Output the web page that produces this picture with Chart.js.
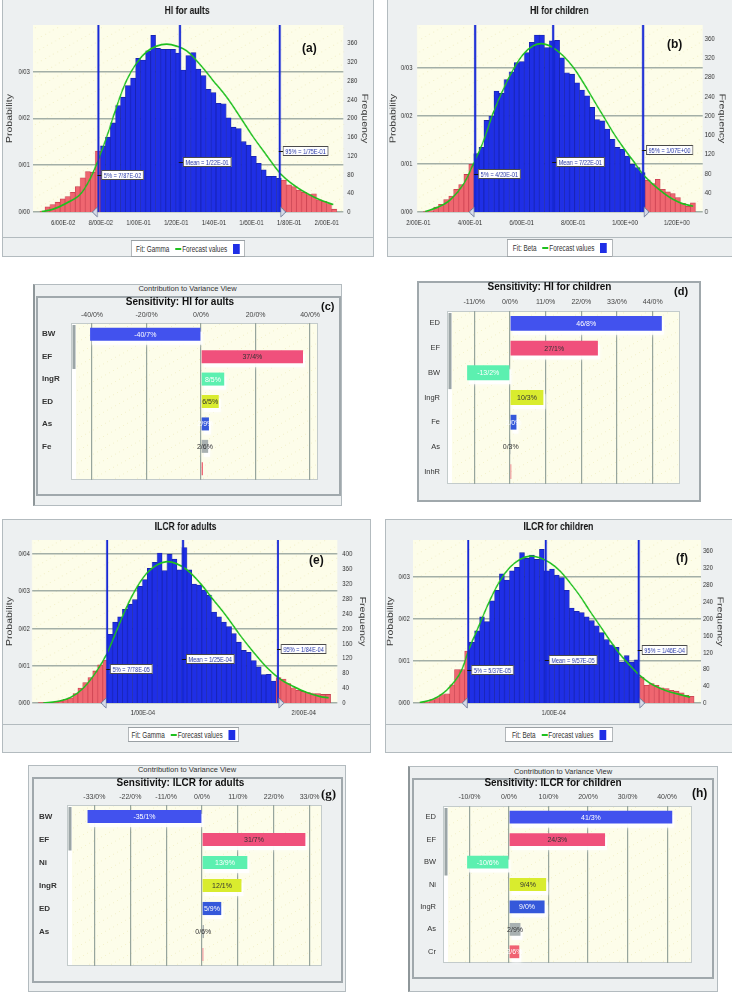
<!DOCTYPE html>
<html><head><meta charset="utf-8">
<script src="https://cdn.jsdelivr.net/npm/chart.js@4.4.1/dist/chart.umd.min.js"></script>
<style>
body{margin:0;background:#fff;width:732px;height:992px;position:relative;overflow:hidden;font-family:'Liberation Sans',Arial,sans-serif;}
.panel{position:absolute;background:#EDF0F1;border:1px solid #B3BBBF;box-sizing:border-box;}
.inner{position:absolute;background:#EDF0F1;border:2px solid #A0A8AC;box-sizing:border-box;}
canvas{position:absolute;}
.sep{position:absolute;height:0;border-top:1px solid #B3BBBF;}
.legend{position:absolute;background:#fff;border:1px solid #9AA0A4;box-sizing:border-box;font-size:8.5px;color:#333;display:flex;align-items:center;justify-content:center;white-space:nowrap;transform-origin:0 0;}
.legend .ln{display:inline-block;width:8px;height:2px;background:#1EC01E;margin:0 1px 0 8px}
.legend .sq{display:inline-block;width:9px;height:10px;background:#1F2FE6;margin-left:8px}
.hdr{position:absolute;font-size:7.5px;color:#333;text-align:center;line-height:10px}
.tag{position:absolute;font-weight:bold;font-size:12px;color:#111;line-height:12px}
</style></head><body>
<script>
// ================= DATA =================
// (a) HI for adults
const aTitle = 'HI for aults';
const aBinStart = 0.0477, aBinWidth = 0.00267;
const aFreq = [2,11,16,21,28,33,42,54,73,86,85,130,
  141,160,190,227,245,270,286,328,324,344,377,349,347,347,347,339,303,334,340,305,291,262,255,232,231,201,181,178,150,143,119,104,90,76,76,72,
  68,58,54,47,42,37,39,26,23,18,6];
const aFitX = [0.0486,0.0547,0.0618,0.0689,0.0742,0.0787,0.0831,0.0884,0.0937,0.099,0.1043,0.1096,0.1149,0.1202,0.1255,0.1326,0.1397,0.1468,0.1539,0.1609,0.168,0.1751,0.1822,0.1893,0.1963,0.2034];
const aFitY = [1,6,19,37,70,112,160,225,281,318,342,354,358,354,344,315,280,245,203,160,121,83,58,40,26,16];
const aXTicks = [0.06,0.08,0.10,0.12,0.14,0.16,0.18,0.20];
const aStats = {p5:0.0787, mean:0.122, p95:0.175};
const aProbTicks = [0,0.01,0.02,0.03];
const aFreqTicks = [0,40,80,120,160,200,240,280,320,360];

// (b) HI for children
const bTitle = 'HI for children';
const bBinStart = 0.22, bBinWidth = 0.0195;
const bFreq = [1,3,10,16,26,33,47,57,78,99,
  121,134,190,199,251,246,275,291,310,312,331,352,367,367,341,355,356,320,289,286,268,253,241,217,192,189,172,151,134,130,116,99,92,82,
  66,59,68,47,42,38,30,18,12,19];
const bFitX = [0.226,0.271,0.323,0.374,0.413,0.452,0.49,0.529,0.568,0.606,0.645,0.684,0.722,0.761,0.8,0.838,0.877,0.916,0.954,0.993,1.032,1.07,1.109,1.148,1.187,1.225,1.264];
const bFitY = [1,9,25,57,100,147,206,255,296,327,345,349,341,324,300,269,234,199,165,134,106,78,57,40,26,17,12];
const bXTicks = [0.2,0.4,0.6,0.8,1.0,1.2];
const bStats = {p5:0.42, mean:0.722, p95:1.07};
const bProbTicks = [0,0.01,0.02,0.03];
const bFreqTicks = [0,40,80,120,160,200,240,280,320,360];

// (e) ILCR for adults
const eTitle = 'ILCR for adults';
const eBinStart = 0.35e-4, eBinWidth = 0.0308e-4;
const eFreq = [1,1,1,2,5,10,14,25,40,55,68,86,102,115,
  184,217,231,251,265,277,313,331,361,377,402,355,399,386,357,417,357,319,316,303,289,244,231,217,205,186,163,141,136,114,97,76,77,59,
  68,64,52,41,34,31,28,25,25,23,23];
const eFitX = [0.381e-4,0.465e-4,0.547e-4,0.63e-4,0.714e-4,0.776e-4,0.838e-4,0.9e-4,0.963e-4,1.025e-4,1.087e-4,1.149e-4,1.212e-4,1.274e-4,1.357e-4,1.44e-4,1.523e-4,1.606e-4,1.689e-4,1.772e-4,1.855e-4,1.938e-4,2.02e-4,2.104e-4,2.156e-4];
const eFitY = [0,4,14,40,86,132,195,258,310,348,370,379,373,357,321,276,231,181,136,95,64,44,28,17,14];
const eXTicks = [1e-4,2e-4];
const eStats = {p5:7.78e-5, mean:1.25e-4, p95:1.84e-4};
const eProbTicks = [0,0.01,0.02,0.03,0.04];
const eFreqTicks = [0,40,80,120,160,200,240,280,320,360,400];

// (f) ILCR for children
const fTitle = 'ILCR for children';
const fBinStart = 0.274e-4, fBinWidth = 0.027e-4;
const fFreq = [1,3,8,13,20,22,43,79,79,123,
  144,171,204,193,242,267,306,291,313,321,356,343,350,340,364,313,317,303,297,267,225,217,214,204,195,183,167,150,138,132,97,112,97,102,
  61,42,46,42,36,34,30,28,24,18,16];
const fFitX = [0.274e-4,0.346e-4,0.419e-4,0.491e-4,0.545e-4,0.599e-4,0.653e-4,0.708e-4,0.762e-4,0.816e-4,0.87e-4,0.924e-4,0.979e-4,1.033e-4,1.087e-4,1.141e-4,1.195e-4,1.25e-4,1.304e-4,1.358e-4,1.412e-4,1.466e-4,1.521e-4,1.575e-4,1.629e-4,1.683e-4,1.737e-4];
const fFitY = [1,9,30,69,132,187,242,289,321,340,348,344,332,313,285,254,218,183,148,116,89,65,47,35,26,20,14];
const fXTicks = [1e-4];
const fStats = {p5:5.37e-5, mean:9.57e-5, p95:1.46e-4};
const fProbTicks = [0,0.01,0.02,0.03];
const fFreqTicks = [0,40,80,120,160,200,240,280,320,360];

// (c) Sensitivity: HI for adults
const cTitle = 'Sensitivity: HI for aults';
const cCats = ['BW','EF','IngR','ED','As','Fe',''];
const cValues = [-40.7,37.4,8.5,6.5,2.9,2.6,0.7];
const cTexts = ['-40/7%','37/4%','8/5%','6/5%','2/9%','2/6%',''];
const cTicks = [-40,-20,0,20,40];

// (d) Sensitivity: HI for children
const dTitle = 'Sensitivity: HI for children';
const dCats = ['ED','EF','BW','IngR','Fe','As','InhR'];
const dValues = [46.8,27.1,-13.2,10.3,2.0,0.3,0.4];
const dTexts = ['46/8%','27/1%','-13/2%','10/3%','2/0%','0/3%',''];
const dTicks = [-11,0,11,22,33,44];

// (g) Sensitivity: ILCR for adults
const gTitle = 'Sensitivity: ILCR for adults';
const gCats = ['BW','EF','Ni','IngR','ED','As',''];
const gValues = [-35.1,31.7,13.9,12.1,5.9,0.6,0.4];
const gTexts = ['-35/1%','31/7%','13/9%','12/1%','5/9%','0/6%',''];
const gTicks = [-33,-22,-11,0,11,22,33];

// (h) Sensitivity: ILCR for children
const hTitle = 'Sensitivity: ILCR for children';
const hCats = ['ED','EF','BW','Ni','IngR','As','Cr'];
const hValues = [41.3,24.3,-10.6,9.4,9.0,2.9,2.6];
const hTexts = ['41/3%','24/3%','-10/6%','9/4%','9/0%','2/9%','2/6%'];
const hTicks = [-10,0,10,20,30,40];

// ================= HELPERS =================
const FONT = "'Liberation Sans',Arial,sans-serif";
Chart.defaults.font.family = FONT;
const SX = 0.75;   // horizontal compression of the histogram panels (as in the source image)

function fmtE(v){
  const s = v.toExponential(2); const parts = s.split('e');
  const n = parseInt(parts[1],10);
  return parts[0].replace('.','/') + 'E' + (n<0?'-':'+') + String(Math.abs(n)).padStart(2,'0');
}
function fmtProb(v){ return v.toFixed(2).replace('.','/'); }
function fmtPct(v){ return (v<0?'-':'') + Math.abs(v).toFixed(1).replace('.','/') + '%'; }

function el(cls, css, html){
  const d = document.createElement('div'); d.className = cls;
  Object.assign(d.style, css); if (html !== undefined) d.innerHTML = html;
  document.body.appendChild(d); return d;
}
function px(o){ const r={}; for (const k in o) r[k] = (typeof o[k]==='number') ? o[k]+'px' : o[k]; return r; }
function canvas(l,t,w,h,sx){
  const c = document.createElement('canvas'); c.width=Math.round(w/sx); c.height=h;
  c.style.left=l+'px'; c.style.top=t+'px';
  if (sx !== 1){ c.style.transform='scaleX('+sx+')'; c.style.transformOrigin='0 0'; }
  document.body.appendChild(c); return c;
}

const plotBg = {
  id:'plotBg',
  beforeDraw(chart, args, o){
    const {ctx, chartArea:a} = chart;
    const k = o.sx || 1;
    ctx.save();
    ctx.fillStyle = o.color || '#FDFDEA';
    ctx.fillRect(a.left, a.top, a.right-a.left, a.bottom-a.top);
    ctx.fillStyle = 'rgba(226,222,150,0.35)';
    for (let s = -400; s < 600; s += 22){
      for (let t = 0; t < 400; t += 4){
        const x = a.left + (s + t)/k, y = a.bottom - t*0.55;
        if (x>a.left && x<a.right && y>a.top && y<a.bottom) ctx.fillRect(x, y, 1/k, 1);
      }
    }
    if (o.border){ ctx.strokeStyle = o.border; ctx.lineWidth = 1;
      ctx.strokeRect(a.left+0.5, a.top+0.5, a.right-a.left-1, a.bottom-a.top-1); }
    ctx.restore();
  }
};

const markers = {
  id:'markers',
  afterDatasetsDraw(chart, args, o){
    const {ctx, chartArea:a, scales} = chart;
    const xs = scales.x, yf = scales.yf, k = o.sx;
    ctx.save();
    o.items.forEach(m => {
      const x = xs.getPixelForValue(m.value);
      ctx.strokeStyle = '#1628D6'; ctx.lineWidth = 2/k;
      ctx.beginPath(); ctx.moveTo(x, a.top); ctx.lineTo(x, a.bottom); ctx.stroke();
      const y = Math.round(yf.getPixelForValue(m.at));
      ctx.font = '7.5px ' + FONT;
      const w = Math.ceil(ctx.measureText(m.text).width) + 5/k, h = 10;
      const bx = x + 3/k;
      ctx.fillStyle = '#fff'; ctx.fillRect(bx, y - h/2, w, h);
      ctx.strokeStyle = '#4a4a4a'; ctx.lineWidth = 1;
      ctx.strokeRect(bx+0.5, y - h/2 + 0.5, w-1, h-1);
      ctx.strokeStyle = '#111'; ctx.beginPath(); ctx.moveTo(x - 1/k, y+0.5); ctx.lineTo(bx, y+0.5); ctx.stroke();
      ctx.fillStyle = '#2A3AA8'; ctx.textBaseline = 'middle'; ctx.textAlign = 'left';
      ctx.fillText(m.text, bx + 2.5/k, y + 0.5);
      if (m.tri){
        const d = m.tri === 'left' ? -1 : 1, yb = a.bottom;
        ctx.beginPath();
        ctx.moveTo(x + d*1/k, yb - 5); ctx.lineTo(x + d*6/k, yb); ctx.lineTo(x + d*1/k, yb + 5);
        ctx.closePath();
        ctx.fillStyle = '#D6DAE8'; ctx.fill();
        ctx.strokeStyle = '#6E7A98'; ctx.lineWidth = 1; ctx.stroke();
      }
    });
    ctx.restore();
  }
};

function makeHist(cfg){
  const k = SX;
  const cv = canvas(cfg.left, cfg.top, cfg.w, cfg.h, k);
  const centers = cfg.freq.map((_, i) => cfg.binStart + (i + 0.5) * cfg.binWidth);
  const bars = cfg.freq.map((f, i) => ({x: centers[i], y: f}));
  const fit = cfg.fitX.map((x, i) => ({x, y: cfg.fitY[i]}));
  const tail = x => x < cfg.stats.p5 || x > cfg.stats.p95;
  new Chart(cv, {
    type:'bar',
    data:{datasets:[
      {type:'line', data:fit, borderColor:'#1EC01E', borderWidth:1.7, pointRadius:0, tension:0.4, yAxisID:'yf', order:0},
      {type:'bar', data:bars, yAxisID:'yf', order:1, barPercentage:1, categoryPercentage:1,
       backgroundColor: c => (c.raw && tail(c.raw.x)) ? '#EF6670' : '#1F2FE6',
       borderColor: c => (c.raw && tail(c.raw.x)) ? '#C83E4E' : '#1722A6',
       borderWidth: 0.8}
    ]},
    options:{
      responsive:false, animation:false, devicePixelRatio:1,
      layout:{padding:0},
      plugins:{
        legend:{display:false}, tooltip:{enabled:false},
        title:{display:true, text:cfg.title, color:'#111', font:{size:11.5, weight:'bold'}, padding:{top:cfg.tTop, bottom:cfg.tBot}},
        plotBg:{color:'#FDFDE9', sx:k},
        markers:{sx:k, items:[
          {value:cfg.stats.p5, text:'5% = ' + fmtE(cfg.stats.p5), at:cfg.labelAt[0], tri:'left'},
          {value:cfg.stats.mean, text:'Mean = ' + fmtE(cfg.stats.mean), at:cfg.labelAt[1]},
          {value:cfg.stats.p95, text:'95% = ' + fmtE(cfg.stats.p95), at:cfg.labelAt[2], tri:'right'}
        ]}
      },
      scales:{
        x:{type:'linear', min:cfg.xMin, max:cfg.xMax, offset:false,
           grid:{display:false, drawTicks:false}, border:{display:false},
           afterBuildTicks: s => { s.ticks = cfg.xTicks.map(v => ({value:v})); },
           ticks:{callback: v => fmtE(v), autoSkip:false, maxRotation:0, padding:cfg.xPad, font:{size:8}, color:'#333'},
           afterFit: s => { s.height = cfg.xH; }},
        yp:{type:'linear', position:'left', min:0, max:cfg.yMax/10000,
           afterBuildTicks: s => { s.ticks = cfg.probTicks.map(v => ({value:v})); },
           ticks:{callback: v => fmtProb(v), padding:cfg.ypPad/k, font:{size:8}, color:'#333'},
           grid:{color:'#A3AFA7', lineWidth:1.5, drawTicks:false}, border:{display:false},
           title:{display:true, text:'Probability', color:'#333', font:{size:10.5}, padding:{top:Math.max(0, cfg.ypTitleC/k - 6.3), bottom:0}},
           afterFit: s => { s.width = cfg.ypW/k; }},
        yf:{type:'linear', position:'right', min:0, max:cfg.yMax,
           afterBuildTicks: s => { s.ticks = cfg.freqTicks.map(v => ({value:v})); },
           ticks:{padding:cfg.yfPad/k, font:{size:8}, color:'#333'},
           grid:{display:false, drawTicks:false}, border:{display:false},
           title:{display:true, text:'Frequency', color:'#333', font:{size:10.5}, padding:{top:Math.max(0, cfg.yfTitleC/k - 6.3), bottom:0}},
           afterFit: s => { s.width = cfg.yfW/k; }}
      }
    },
    plugins:[plotBg, markers]
  });
}

const sensDeco = {
  id:'sensDeco',
  beforeDatasetsDraw(chart, args, o){
    const {ctx, chartArea:a} = chart;
    ctx.save();
    ctx.fillStyle = '#FFFFFF'; ctx.fillRect(a.left+1, a.top+1, 4, a.bottom-a.top-2);
    ctx.fillStyle = '#9BA5A6'; ctx.fillRect(a.left+1.5, a.top+2, 3, (a.bottom-a.top)*o.scroll);
    const meta = chart.getDatasetMeta(0);
    ctx.shadowColor = 'rgba(255,255,255,0.9)'; ctx.shadowBlur = 4;
    ctx.fillStyle = 'rgba(255,255,255,0.85)';
    meta.data.forEach(b => {
      const p = b.getProps(['x','y','base','height'], true);
      const l = Math.min(p.x, p.base), w = Math.abs(p.x - p.base);
      if (w > 3) ctx.fillRect(l + 2, p.y - p.height/2 + 4, w, p.height);
    });
    ctx.restore();
  },
  afterDatasetsDraw(chart, args, o){
    const {ctx} = chart;
    const meta = chart.getDatasetMeta(0);
    ctx.save();
    ctx.font = '7px ' + FONT; ctx.textAlign = 'center'; ctx.textBaseline = 'middle';
    meta.data.forEach((b, i) => {
      const t = o.texts[i]; if (!t) return;
      const p = b.getProps(['x','y','base'], true);
      ctx.fillStyle = o.textColors[i];
      ctx.fillText(t, (p.x + p.base)/2, p.y + 0.5);
    });
    ctx.restore();
  }
};

function makeSens(cfg){
  const cv = canvas(cfg.left, cfg.top, cfg.w, cfg.h, 1);
  new Chart(cv, {
    type:'bar',
    data:{labels:cfg.cats, datasets:[{data:cfg.values, backgroundColor:cfg.colors, borderWidth:0,
      barPercentage:cfg.barPct, categoryPercentage:1}]},
    options:{
      indexAxis:'y', responsive:false, animation:false, devicePixelRatio:1,
      layout:{padding:cfg.pad},
      plugins:{
        legend:{display:false}, tooltip:{enabled:false},
        title:{display:true, text:cfg.title, color:'#111', font:{size:10, weight:'bold'}, padding:{top:0, bottom:0}},
        plotBg:{color:'#FDFDEA', border:'#C3CBCB'},
        sensDeco:{scroll:cfg.scroll, texts:cfg.texts, textColors:cfg.textColors}
      },
      scales:{
        x:{type:'linear', position:'top', min:cfg.xMin, max:cfg.xMax,
           afterBuildTicks: s => { s.ticks = cfg.ticks.map(v => ({value:v})); },
           ticks:{callback: v => fmtPct(v), autoSkip:false, maxRotation:0, padding:cfg.xPad, font:{size:7}, color:'#444'},
           grid:{color:'#97A59D', lineWidth:1.2, drawTicks:false}, border:{display:false},
           afterFit: s => { s.height = cfg.xH; }},
        y:{ticks:{crossAlign:cfg.align, padding:cfg.yPad, font:{size:cfg.labelSize, weight:cfg.labelWeight}, color:'#333'},
           grid:{display:false, drawTicks:false}, border:{display:false},
           afterFit: s => { s.width = cfg.yW; }}
      }
    },
    plugins:[plotBg, sensDeco]
  });
}

const BLUE='#4252EE', PINK='#F0507C', MINT='#5CF0B0', YEL='#D9EC2E', BLUE2='#3558DA', GREY='#A9B1B1', RED='#F06272';

// ================= FRAMES =================
el('panel', px({left:2, top:-1, width:372, height:258}));
el('sep', px({left:2, top:237, width:372}));
el('panel', px({left:387, top:-1, width:346, height:258}));
el('sep', px({left:387, top:237, width:346}));
el('panel', px({left:2, top:519, width:369, height:234}));
el('sep', px({left:2, top:724, width:369}));
el('panel', px({left:385, top:519, width:348, height:234}));
el('sep', px({left:385, top:724, width:348}));

el('panel', px({left:33, top:284, width:309, height:222, borderLeft:'2px solid #8E9699'}));
el('hdr', px({left:33, top:284, width:309}), 'Contribution to Variance View');
el('inner', px({left:36, top:296, width:305, height:200}));
el('inner', px({left:417, top:281, width:284, height:221}));
el('panel', px({left:28, top:765, width:318, height:227}));
el('hdr', px({left:28, top:765, width:318}), 'Contribution to Variance View');
el('inner', px({left:32, top:777, width:311, height:206}));
el('panel', px({left:408, top:766, width:310, height:226, borderLeft:'2px solid #8E9699'}));
el('hdr', px({left:408, top:767, width:310}), 'Contribution to Variance View');
el('inner', px({left:412, top:778, width:302, height:201}));

// ================= CHARTS =================
makeHist({left:3, top:0, w:368, h:237, title:aTitle, binStart:aBinStart, binWidth:aBinWidth, freq:aFreq,
  fitX:aFitX, fitY:aFitY, xTicks:aXTicks, stats:aStats, probTicks:aProbTicks, freqTicks:aFreqTicks,
  xMin:0.044, xMax:0.2087, yMax:399, labelAt:[80,107,130],
  tTop:4, tBot:7.2, xH:25, xPad:5.5, ypW:30, ypPad:3, ypTitleC:7, yfW:28, yfPad:4, yfTitleC:7});
makeHist({left:388, top:0, w:343, h:237, title:bTitle, binStart:bBinStart, binWidth:bBinWidth, freq:bFreq,
  fitX:bFitX, fitY:bFitY, xTicks:bXTicks, stats:bStats, probTicks:bProbTicks, freqTicks:bFreqTicks,
  xMin:0.195, xMax:1.301, yMax:388, labelAt:[78,103,128],
  tTop:4, tBot:7.2, xH:25, xPad:5.5, ypW:29, ypPad:4.5, ypTitleC:5, yfW:28, yfPad:2, yfTitleC:9});
makeHist({left:3, top:519, w:365, h:205, title:eTitle, binStart:eBinStart, binWidth:eBinWidth, freq:eFreq,
  fitX:eFitX, fitY:eFitY, xTicks:eXTicks, stats:eStats, probTicks:eProbTicks, freqTicks:eFreqTicks,
  xMin:0.311e-4, xMax:2.209e-4, yMax:437, labelAt:[90,118,146],
  tTop:1.4, tBot:5.8, xH:21, xPad:5, ypW:29, ypPad:2, ypTitleC:7, yfW:31, yfPad:5, yfTitleC:6});
makeHist({left:386, top:519, w:345, h:205, title:fTitle, binStart:fBinStart, binWidth:fBinWidth, freq:fFreq,
  fitX:fFitX, fitY:fFitY, xTicks:fXTicks, stats:fStats, probTicks:fProbTicks, freqTicks:fFreqTicks,
  xMin:0.238e-4, xMax:1.797e-4, yMax:386, labelAt:[77,103,125],
  tTop:1.4, tBot:5.8, xH:21, xPad:5, ypW:27, ypPad:3, ypTitleC:4.7, yfW:30, yfPad:2, yfTitleC:11});

makeSens({left:38, top:296, w:300, h:197, title:cTitle, cats:cCats, values:cValues, texts:cTexts, ticks:cTicks,
  colors:[BLUE,PINK,MINT,YEL,BLUE2,GREY,RED], textColors:['#fff','#333','#fff','#333','#fff','#333','#333'],
  xMin:-47.7, xMax:42.9, pad:{left:4, right:20, top:0, bottom:13}, yW:29, xH:15, xPad:3.5,
  align:'far', yPad:3, labelSize:8, labelWeight:'bold', barPct:0.58, scroll:0.28});
makeSens({left:419, top:281, w:279, h:218, title:dTitle, cats:dCats, values:dValues, texts:dTexts, ticks:dTicks,
  colors:[BLUE,PINK,MINT,YEL,BLUE2,GREY,RED], textColors:['#fff','#333','#fff','#333','#fff','#333','#333'],
  xMin:-19.4, xMax:52.4, pad:{left:0, right:18, top:0, bottom:15}, yW:28, xH:18, xPad:4.5,
  align:'near', yPad:7, labelSize:7.5, labelWeight:'normal', barPct:0.6, scroll:0.44});
makeSens({left:34, top:777, w:306, h:202, title:gTitle, cats:gCats, values:gValues, texts:gTexts, ticks:gTicks,
  colors:[BLUE,PINK,MINT,YEL,BLUE2,GREY,RED], textColors:['#fff','#333','#fff','#333','#fff','#333','#333'],
  xMin:-41.4, xMax:36.8, pad:{left:5, right:18, top:0, bottom:13}, yW:28, xH:16, xPad:3.5,
  align:'far', yPad:3, labelSize:8, labelWeight:'bold', barPct:0.57, scroll:0.27});
makeSens({left:414, top:777, w:297, h:200, title:hTitle, cats:hCats, values:hValues, texts:hTexts, ticks:hTicks,
  colors:[BLUE,PINK,MINT,YEL,BLUE2,GREY,RED], textColors:['#fff','#333','#fff','#333','#fff','#333','#fff'],
  xMin:-16.7, xMax:46.3, pad:{left:0, right:19, top:0, bottom:14}, yW:29, xH:17, xPad:4.5,
  align:'near', yPad:7, labelSize:7.5, labelWeight:'normal', barPct:0.57, scroll:0.43});

// ================= LEGENDS & TAGS =================
const legHTML = fit => 'Fit: ' + fit + '<span class="ln"></span>Forecast values<span class="sq"></span>';
function legend(l, t, w, h, fit){
  el('legend', px({left:l, top:t, width:w/SX, height:h, transform:'scaleX('+SX+')'}), legHTML(fit));
}
legend(131, 240, 114, 17, 'Gamma');
legend(507, 239, 106, 18, 'Beta');
legend(128, 727, 111, 15, 'Gamma');
legend(505, 727, 108, 15, 'Beta');

el('tag', px({left:302, top:42}), '(a)');
el('tag', px({left:667, top:38}), '(b)');
el('tag', px({left:321, top:300, fontSize:11}), '(c)');
el('tag', px({left:674, top:285, fontSize:11}), '(d)');
el('tag', px({left:309, top:554}), '(e)');
el('tag', px({left:676, top:552}), '(f)');
el('tag', px({left:321, top:788, fontSize:13, fontFamily:"'Liberation Serif','Times New Roman',serif"}), '(g)');
el('tag', px({left:692, top:787}), '(h)');
</script>
</body></html>
